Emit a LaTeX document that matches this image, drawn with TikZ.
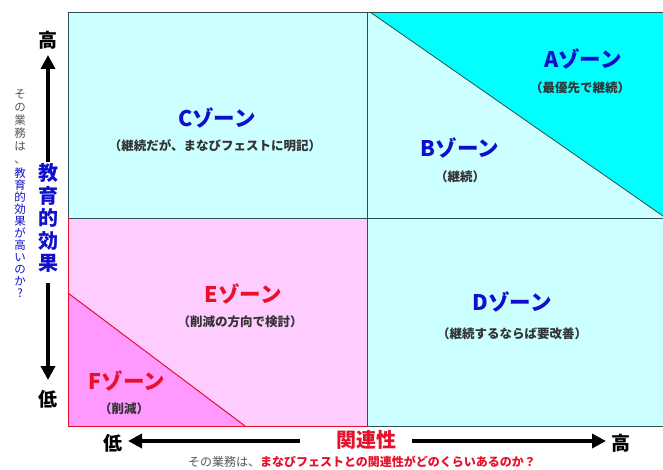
\documentclass[tikz,border=0pt]{standalone}
\usepackage{fontspec}
\setmainfont{Noto Sans CJK JP}
\usetikzlibrary{arrows.meta}
\definecolor{paleCyan}{HTML}{CCFFFF}
\definecolor{aCyan}{HTML}{00FFFF}
\definecolor{palePink}{HTML}{FFCCFF}
\definecolor{fMag}{HTML}{FF99FF}
\definecolor{zoneBlue}{HTML}{1010CC}
\definecolor{zoneRed}{HTML}{E8102A}
\definecolor{subGray}{HTML}{333333}
\definecolor{gridLine}{HTML}{2F4F4F}
\definecolor{smallGray}{HTML}{555555}
\tikzset{
  zonetitle/.style={font=\fontsize{21.5}{23}\selectfont\bfseries, inner sep=0pt},
  zonesub/.style={font=\fontsize{12.5}{14}\selectfont\bfseries, text=subGray, inner sep=0pt},
  axislabel/.style={font=\fontsize{19}{21}\selectfont\bfseries, inner sep=0pt},
  bigarrow/.style={line width=4pt, -{Triangle[width=14pt,length=14pt]}},
}
\begin{document}
\begin{tikzpicture}[x=1pt,y=-1pt]
\useasboundingbox (0,0) rectangle (663,470);
% quadrants
\fill[paleCyan] (68,12) rectangle (367,218);
\fill[paleCyan] (367,12) rectangle (663,426);
\fill[aCyan] (370,12) -- (663,12) -- (663,216) -- cycle;
\fill[palePink] (68,218) rectangle (367,426);
\fill[fMag] (68,293) -- (68,426) -- (245,426) -- cycle;
% lines
\draw[gridLine, line width=0.8pt] (68,218) -- (68,12) -- (663,12);
\draw[gridLine, line width=0.8pt] (367,426) -- (663,426);
\draw[gridLine, line width=0.8pt] (68,218) -- (663,218);
\draw[gridLine, line width=0.8pt] (367,12) -- (367,426);
\draw[gridLine, line width=0.8pt] (370,12) -- (663,216);
\draw[zoneRed, line width=1pt] (68,218) -- (68,426) -- (367,426);
\draw[zoneRed, line width=1pt] (68,293) -- (245,426);
% zone labels
\node[zonetitle, text=zoneBlue] (cT) at (217,118) {Cゾーン};
\node[zonesub] (cS) at (215,146) {（継続だが、まなびフェストに明記）};
\node[zonetitle, text=zoneBlue] (aT) at (583,59) {Aゾーン};
\node[zonesub] (aS) at (580,88) {（最優先で継続）};
\node[zonetitle, text=zoneBlue] (bT) at (460,148) {Bゾーン};
\node[zonesub] (bS) at (460,177) {（継続）};
\node[zonetitle, text=zoneRed] (eT) at (243,294) {Eゾーン};
\node[zonesub] (eS) at (240,322) {（削減の方向で検討）};
\node[zonetitle, text=zoneBlue] (dT) at (512,302) {Dゾーン};
\node[zonesub] (dS) at (512,334) {（継続するならば要改善）};
\node[zonetitle, text=zoneRed] (fT) at (127,381) {Fゾーン};
\node[zonesub] (fS) at (124,409) {（削減）};
% vertical axis
\node[axislabel] (vHigh) at (48,40) {高};
\node[axislabel] (vLow) at (48,399) {低};
\node[axislabel, text=zoneBlue, align=center, font=\fontsize{20}{22.5}\selectfont\bfseries] (vName) at (48,218) {教\\育\\的\\効\\果};
\coordinate (upTail) at (48,162);
\coordinate (upTip) at (48,55);
\coordinate (dnTail) at (48,283);
\coordinate (dnTip) at (48,380);
\draw[bigarrow] (upTail) -- (upTip);
\draw[bigarrow] (dnTail) -- (dnTip);
\node[anchor=north, align=center, inner sep=0pt, text=smallGray, font=\fontsize{11.5}{13}\selectfont] (vQ1) at (20,89) {そ\\の\\業\\務\\は\\、};
\node[anchor=north, align=center, inner sep=0pt, text=zoneBlue, font=\fontsize{11.5}{12}\selectfont] (vQ2) at (20,168) {教\\育\\的\\効\\果\\が\\高\\い\\の\\か\\?};
% horizontal axis
\node[axislabel] (hLow) at (113,443) {低};
\node[axislabel] (hHigh) at (621,443) {高};
\node[axislabel, text=zoneRed, font=\fontsize{20}{22}\selectfont\bfseries] (hName) at (366,440) {関連性};
\coordinate (lTail) at (300,441);
\coordinate (lTip) at (128,441);
\coordinate (rTail) at (412,441);
\coordinate (rTip) at (606,441);
\draw[bigarrow] (lTail) -- (lTip);
\draw[bigarrow] (rTail) -- (rTip);
\node[inner sep=0pt, font=\fontsize{12}{14}\selectfont] (hQ) at (362,462) {\textcolor{smallGray}{その業務は、}\textcolor{zoneRed}{\bfseries まなびフェストとの関連性がどのくらいあるのか？}};
\end{tikzpicture}
\end{document}
